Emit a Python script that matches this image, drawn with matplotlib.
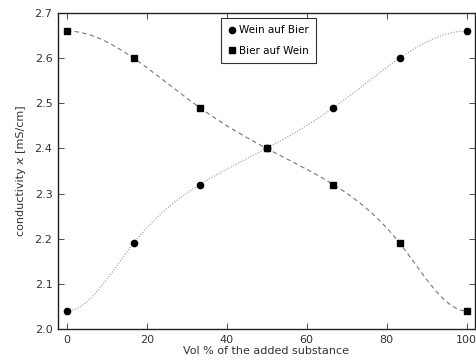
import numpy as np
import matplotlib
matplotlib.use("Agg")
import matplotlib.pyplot as plt

# measured points
vol = [0, 16.7, 33.3, 50, 66.7, 83.3, 100]
wein_auf_bier = [2.04, 2.19, 2.32, 2.40, 2.49, 2.60, 2.66]
bier_auf_wein = [2.66, 2.60, 2.49, 2.40, 2.32, 2.19, 2.04]

x_ticks = [0, 20, 40, 60, 80, 100]
y_ticks = [2.0, 2.1, 2.2, 2.3, 2.4, 2.5, 2.6, 2.7]


def smooth(x, y, n=300):
    # clamped cubic spline (zero slope at the ends)
    x = np.asarray(x, float)
    y = np.asarray(y, float)
    m = len(x)
    h = np.diff(x)
    A = np.zeros((m, m))
    b = np.zeros(m)
    A[0, 0] = 2 * h[0]; A[0, 1] = h[0]
    b[0] = 3 * ((y[1] - y[0]) / h[0])
    A[-1, -2] = h[-1]; A[-1, -1] = 2 * h[-1]
    b[-1] = 3 * (-(y[-1] - y[-2]) / h[-1])
    for i in range(1, m - 1):
        A[i, i - 1] = h[i - 1]
        A[i, i] = 2 * (h[i - 1] + h[i])
        A[i, i + 1] = h[i]
        b[i] = 3 * ((y[i + 1] - y[i]) / h[i] - (y[i] - y[i - 1]) / h[i - 1])
    c = np.linalg.solve(A, b)
    xs = np.linspace(x[0], x[-1], n)
    ys = np.empty_like(xs)
    for k, xv in enumerate(xs):
        i = min(np.searchsorted(x, xv, side='right') - 1, m - 2)
        d = (c[i + 1] - c[i]) / (3 * h[i])
        bb = (y[i + 1] - y[i]) / h[i] - h[i] * (2 * c[i] + c[i + 1]) / 3
        t = xv - x[i]
        ys[k] = y[i] + bb * t + c[i] * t ** 2 + d * t ** 3
    return xs, ys


plt.rcParams['font.family'] = ['DejaVu Sans']
fig = plt.figure(figsize=(4.77, 3.6), dpi=100)
ax = fig.add_axes([0.1216, 0.086, 0.874, 0.878])

xs, ys = smooth(vol, wein_auf_bier)
ax.plot(xs, ys, color='#999999', lw=0.8, linestyle=(0, (1, 1.5)))
xs, ys = smooth(vol, bier_auf_wein)
ax.plot(xs, ys, color='#777777', lw=0.8, linestyle=(0, (4, 3)))

ax.plot(vol, wein_auf_bier, linestyle='none', marker='o', ms=4.5,
        mfc='black', mec='black', label='Wein auf Bier')
ax.plot(vol, bier_auf_wein, linestyle='none', marker='s', ms=5,
        mfc='black', mec='black', label='Bier auf Wein')

ax.set_xlim(-2.2, 102.1)
ax.set_ylim(2.0, 2.7)
ax.set_xticks(x_ticks)
ax.set_yticks(y_ticks)
ax.set_yticklabels([f'{v:.1f}' for v in y_ticks])
ax.tick_params(direction='in', top=True, right=True, length=4, width=0.6,
               labelsize=8, colors='#333333', labelcolor='#333333', pad=4)
for s in ax.spines.values():
    s.set_linewidth(1.0)
    s.set_color('#222222')

ax.set_xlabel('Vol % of the added substance', fontsize=8, color='#333333', labelpad=1)
ax.set_ylabel('conductivity \u03f0 [mS/cm]', fontsize=8, color='#333333', labelpad=6)

leg = ax.legend(loc='upper center', bbox_to_anchor=(0.505, 1.0), fontsize=7.5,
                frameon=True, fancybox=False, edgecolor='black', handlelength=0.6,
                handletextpad=0.4, borderpad=0.7, labelspacing=1.0)
leg.get_frame().set_linewidth(0.8)

fig.savefig('out.png', dpi=100)
